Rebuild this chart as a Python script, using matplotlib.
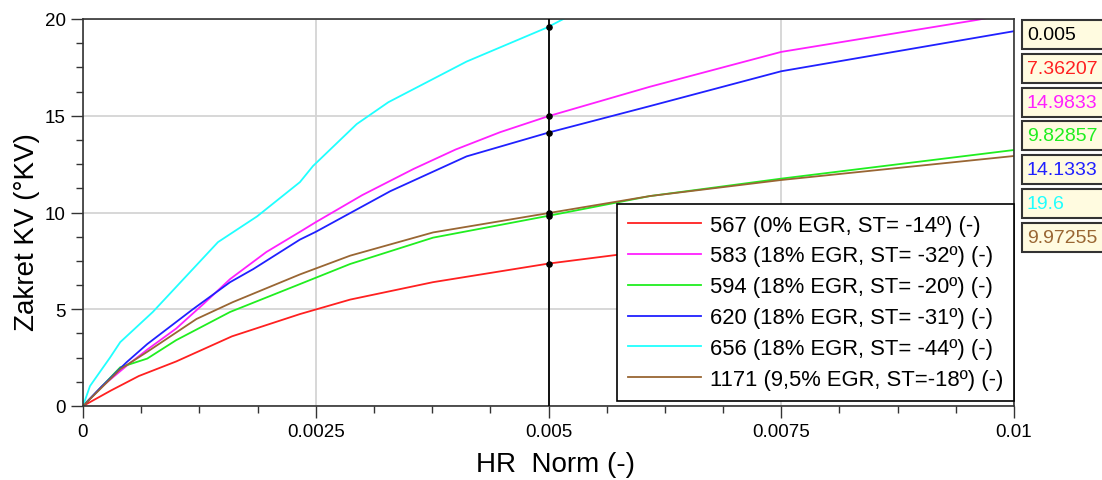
import numpy as np
import matplotlib.pyplot as plt
from matplotlib.ticker import MultipleLocator
from matplotlib.patches import Rectangle

plt.rcParams['font.family'] = ['Liberation Sans', 'DejaVu Sans']

# --- data ---
x_567 = [0, 0.0003, 0.0006, 0.001, 0.0016, 0.00233, 0.00287, 0.00376, 0.005, 0.0058, 0.007, 0.0085, 0.01]
y_567 = [0, 0.8, 1.55, 2.3, 3.6, 4.75, 5.5, 6.4, 7.36, 7.85, 8.45, 9.1, 9.7]

x_583 = [0, 0.0002, 0.0005, 0.0007, 0.001, 0.0013, 0.00158, 0.00197, 0.00233, 0.0025, 0.003,
         0.00355, 0.004, 0.00448, 0.005, 0.00609, 0.0075, 0.0096, 0.01]
y_583 = [0, 1.0, 2.2, 2.95, 4.0, 5.3, 6.56, 7.96, 9.0, 9.5, 10.9, 12.25, 13.25, 14.15, 14.98, 16.5, 18.3, 19.95, 20.3]

x_594 = [0, 0.0004, 0.00069, 0.001, 0.00158, 0.00233, 0.00287, 0.00376, 0.005, 0.00609, 0.0075, 0.01]
y_594 = [0, 2.0, 2.45, 3.4, 4.86, 6.3, 7.34, 8.7, 9.83, 10.85, 11.75, 13.23]

x_620 = [0, 0.0002, 0.00047, 0.00069, 0.00118, 0.00158, 0.00183, 0.00233, 0.0025, 0.0033,
         0.00412, 0.005, 0.00609, 0.0075, 0.01]
y_620 = [0, 1.0, 2.27, 3.2, 5.0, 6.4, 7.08, 8.6, 9.0, 11.1, 12.9, 14.13, 15.5, 17.3, 19.37]

x_656 = [0, 0.000075, 0.00018, 0.00029, 0.0004, 0.00075, 0.00145, 0.00187, 0.00233, 0.00247,
         0.00294, 0.00328, 0.00412, 0.00498, 0.0052]
y_656 = [0, 1.03, 1.75, 2.5, 3.3, 4.86, 8.47, 9.8, 11.57, 12.4, 14.57, 15.7, 17.8, 19.55, 20.1]

x_1171 = [0, 0.0004, 0.00069, 0.00122, 0.00161, 0.00233, 0.00287, 0.00376, 0.005, 0.00609, 0.0075, 0.01]
y_1171 = [0, 1.9, 2.8, 4.5, 5.37, 6.8, 7.77, 8.97, 9.97, 10.85, 11.68, 12.92]

labels = ['567 (0% EGR, ST= -14º) (-)', '583 (18% EGR, ST= -32º) (-)', '594 (18% EGR, ST= -20º) (-)',
          '620 (18% EGR, ST= -31º) (-)', '656 (18% EGR, ST= -44º) (-)', '1171 (9,5% EGR, ST=-18º) (-)']
colors = ['#ff2020', '#ff20ff', '#20ee20', '#2020ff', '#20ffff', '#996633']

cursor_x = 0.005
readout_txt = ['0.005', '7.36207', '14.9833', '9.82857', '14.1333', '19.6', '9.97255']
readout_col = ['black'] + colors

series = [(x_567, y_567), (x_583, y_583), (x_594, y_594), (x_620, y_620), (x_656, y_656), (x_1171, y_1171)]

W, H = 1102, 481
fig = plt.figure(figsize=(W/100, H/100), dpi=100)
ax = fig.add_axes([83/W, 1 - 407/H, (1014-83)/W, (407-20)/H])

for (xs, ys), lab, c in zip(series, labels, colors):
    ax.plot(xs, ys, color=c, lw=1.3, label=lab)

# cursor line + dots
ax.axvline(cursor_x, color='black', lw=1.3, zorder=4)
ax.scatter([cursor_x]*6, [float(t) for t in readout_txt[1:]], s=14, color='black', zorder=5)

ax.set_xlim(0, 0.01)
ax.set_ylim(0, 20)
ax.xaxis.set_minor_locator(MultipleLocator(0.000625))
ax.yaxis.set_major_locator(MultipleLocator(5))
ax.yaxis.set_minor_locator(MultipleLocator(1.25))
ax.set_xticks([0, 0.0025, 0.005, 0.0075, 0.01])
ax.set_xticklabels(['0', '0.0025', '0.005', '0.0075', '0.01'])
ax.grid(True, which='major', color='#d4d4d4', lw=1.3, zorder=0)
ax.set_axisbelow(True)
ax.tick_params(which='major', length=8.5, width=1, labelsize=13.5, pad=4, color='#333333')
ax.tick_params(which='minor', length=5, width=1, color='#333333')
for s in ax.spines.values():
    s.set_color('#333333')
    s.set_linewidth(1.2)

ax.set_xlabel('HR  Norm (-)', fontsize=20)
ax.set_ylabel('Zakret KV (°KV)', fontsize=20)
ax.xaxis.set_label_coords((556-83)/931, (407-452)/387)
ax.yaxis.set_label_coords((40-83)/931, (407-232)/387)

leg = ax.legend(loc='lower right', bbox_to_anchor=(1.0, 0.013), fontsize=15.8, frameon=True,
                fancybox=False, edgecolor='black', framealpha=1, handlelength=3.3,
                handletextpad=0.4, labelspacing=0.45, borderpad=0.5, borderaxespad=0)
leg.get_frame().set_linewidth(1.2)
leg.set_zorder(6)

# readout boxes on the right
for i, (t, c) in enumerate(zip(readout_txt, readout_col)):
    top = 21 + i * 33.8
    fig.patches.append(Rectangle((1022/W, 1 - (top + 29)/H), 90/W, 29/H, transform=fig.transFigure,
                                 fc='#fffbe0', ec='#333333', lw=1.5))
    fig.text(1027/W, 1 - (top + 14.5)/H, t, color=c, fontsize=14, va='center', ha='left')

fig.savefig('out.png', dpi=100)
